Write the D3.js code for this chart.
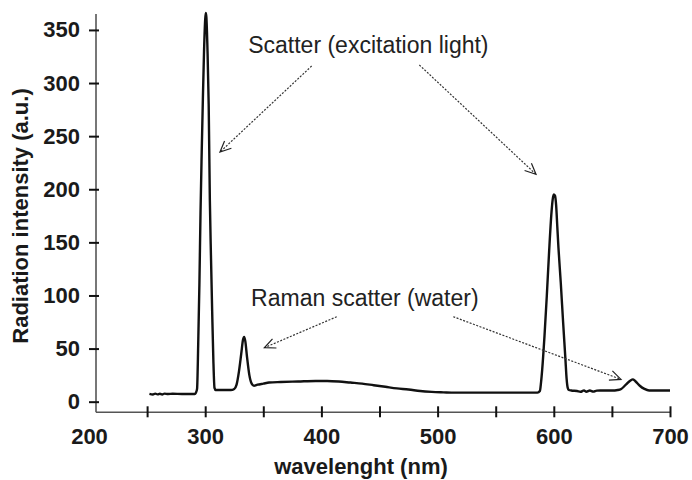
<!DOCTYPE html>
<html>
<head>
<meta charset="utf-8">
<script src="https://cdn.jsdelivr.net/npm/d3@7"></script>
<style>
  body { margin: 0; background: #fff; }
  svg { display: block; }
</style>
</head>
<body>
<div id="chart"></div>
<script>
// spectrum
const wavelength = [
  252, 255, 257, 259, 261, 263, 265, 268, 272, 280, 291,
  292, 293, 294, 295, 296, 297, 298, 299, 300, 300.5, 301, 302, 303, 304, 305, 306, 307, 308, 309,
  315, 322, 325, 327, 329, 331, 332.5, 333.5, 334.5, 336, 338, 340, 342, 345, 350,
  355, 365, 380, 395, 405, 415, 425, 435, 445, 455, 465, 475, 485, 495, 505, 515, 540, 560, 586,
  588, 589, 590, 592, 594, 596, 598, 599, 600, 601, 602, 603, 604, 606, 608, 610, 611, 612, 613,
  615, 620, 623, 626, 628, 631, 634, 637, 640, 650, 655, 658, 662, 666, 668, 670, 674, 678, 682, 690, 700
];
const intensity = [
  7.3, 6.8, 7.6, 6.9, 7.5, 6.8, 7.6, 7.2, 7.4, 7.3, 7.3,
  8.5, 12, 55, 110, 180, 235, 285, 330, 360, 366, 362, 330, 280, 190, 135, 85, 40, 13, 11,
  11, 11, 12, 16, 28, 45, 58, 61, 57, 42, 25, 17, 15, 16, 17,
  18, 18.5, 19, 19.5, 19.5, 19, 18, 17, 15.5, 14, 12.5, 11.5, 10, 9.2, 8.8, 8.5, 8.5, 8.5, 8.5,
  10, 18, 30, 62, 100, 142, 178, 190, 195, 194, 185, 165, 145, 112, 75, 40, 22, 13, 11,
  10.5, 10, 9.3, 10.6, 9.4, 10.5, 9.5, 10.4, 10.5, 10.5, 11, 12, 16, 20, 21, 19.5, 15, 12, 10.5, 10.5, 10.5
];

const xTicks = [200, 250, 300, 350, 400, 450, 500, 550, 600, 650, 700];
const yTicks = [0, 50, 100, 150, 200, 250, 300, 350];

// annotation text + arrows, in data units
const notes = [
  { text: 'Scatter (excitation light)', x: 337, y: 328 },
  { text: 'Raman scatter (water)', x: 339.5, y: 90 }
];
const arrows = [
  { from: [391.6, 316], to: [312.7, 235] },
  { from: [484.3, 317], to: [584.7, 214] },
  { from: [413.2, 80], to: [350.9, 50.8] },
  { from: [513.5, 80], to: [657.8, 21] }
];

const width = 692;
const height = 480;

const x = d3.scaleLinear().domain([200, 700]).range([89, 670]);
const y = d3.scaleLinear().domain([-10, 365]).range([412.3, 14]);
const axisX = 96;

const svg = d3.create('svg')
  .attr('width', width)
  .attr('height', height)
  .attr('viewBox', [0, 0, width, height]);

svg.append('defs').append('marker')
  .attr('id', 'head')
  .attr('viewBox', '-12 -6 14 12')
  .attr('refX', 0).attr('refY', 0)
  .attr('markerWidth', 14).attr('markerHeight', 12)
  .attr('markerUnits', 'userSpaceOnUse')
  .attr('orient', 'auto')
  .append('path')
  .attr('d', 'M-11,-5L0,0L-11,5')
  .attr('fill', 'none')
  .attr('stroke', '#222')
  .attr('stroke-width', 1.2);

// axis lines
svg.append('line')
  .attr('x1', axisX).attr('x2', axisX)
  .attr('y1', y(-10)).attr('y2', y(365))
  .attr('stroke', '#555').attr('stroke-width', 1.6);
svg.append('line')
  .attr('x1', axisX).attr('x2', x(700))
  .attr('y1', y(-10)).attr('y2', y(-10))
  .attr('stroke', '#555').attr('stroke-width', 1.6);

const gx = svg.append('g')
  .attr('transform', `translate(0,${y(-10)})`)
  .call(d3.axisBottom(x).tickValues(xTicks).tickSize(0).tickPadding(16)
    .tickFormat(d => d % 100 === 0 ? d : ''));
gx.select('.domain').remove();
gx.selectAll('.tick').filter(d => d > 200).append('line')
  .attr('y1', -6).attr('y2', 5)
  .attr('stroke', '#111').attr('stroke-width', 2);

const gy = svg.append('g')
  .attr('transform', `translate(${axisX},0)`)
  .call(d3.axisLeft(y).tickValues(yTicks).tickSize(0).tickPadding(16));
gy.select('.domain').remove();
gy.selectAll('.tick').append('line')
  .attr('x1', -7).attr('x2', 3)
  .attr('stroke', '#111').attr('stroke-width', 2);

svg.selectAll('.tick text')
  .attr('fill', '#1a1a1a')
  .style('font-family', '"Liberation Sans", Arial, sans-serif')
  .style('font-size', '22px')
  .style('font-weight', 'bold');

// axis titles
svg.append('text')
  .attr('x', 361).attr('y', 474)
  .attr('text-anchor', 'middle')
  .attr('fill', '#1a1a1a')
  .style('font-family', '"Liberation Sans", Arial, sans-serif')
  .style('font-size', '22px')
  .style('font-weight', 'bold')
  .text('wavelenght (nm)');

svg.append('text')
  .attr('transform', 'translate(28,216) rotate(-90)')
  .attr('text-anchor', 'middle')
  .attr('fill', '#1a1a1a')
  .style('font-family', '"Liberation Sans", Arial, sans-serif')
  .style('font-size', '22px')
  .style('font-weight', 'bold')
  .text('Radiation intensity (a.u.)');

// spectrum
const spectrum = wavelength.map((w, i) => [w, intensity[i]]);
const line = d3.line()
  .x(d => x(d[0]))
  .y(d => y(d[1]))
  .curve(d3.curveMonotoneX);

svg.append('path')
  .datum(spectrum)
  .attr('fill', 'none')
  .attr('stroke', '#111')
  .attr('stroke-width', 2.4)
  .attr('stroke-linejoin', 'round')
  .attr('d', line);

// annotations
svg.selectAll('.arrow')
  .data(arrows)
  .join('line')
  .attr('class', 'arrow')
  .attr('x1', d => x(d.from[0])).attr('y1', d => y(d.from[1]))
  .attr('x2', d => x(d.to[0])).attr('y2', d => y(d.to[1]))
  .attr('stroke', '#333')
  .attr('stroke-width', 1.2)
  .attr('stroke-dasharray', '2,1.5')
  .attr('marker-end', 'url(#head)');

svg.selectAll('.note')
  .data(notes)
  .join('text')
  .attr('class', 'note')
  .attr('x', d => x(d.x))
  .attr('y', d => y(d.y))
  .attr('fill', '#222')
  .style('font-family', '"Liberation Sans", Arial, sans-serif')
  .style('font-size', '23px')
  .text(d => d.text);

document.getElementById('chart').appendChild(svg.node());
</script>
</body>
</html>
